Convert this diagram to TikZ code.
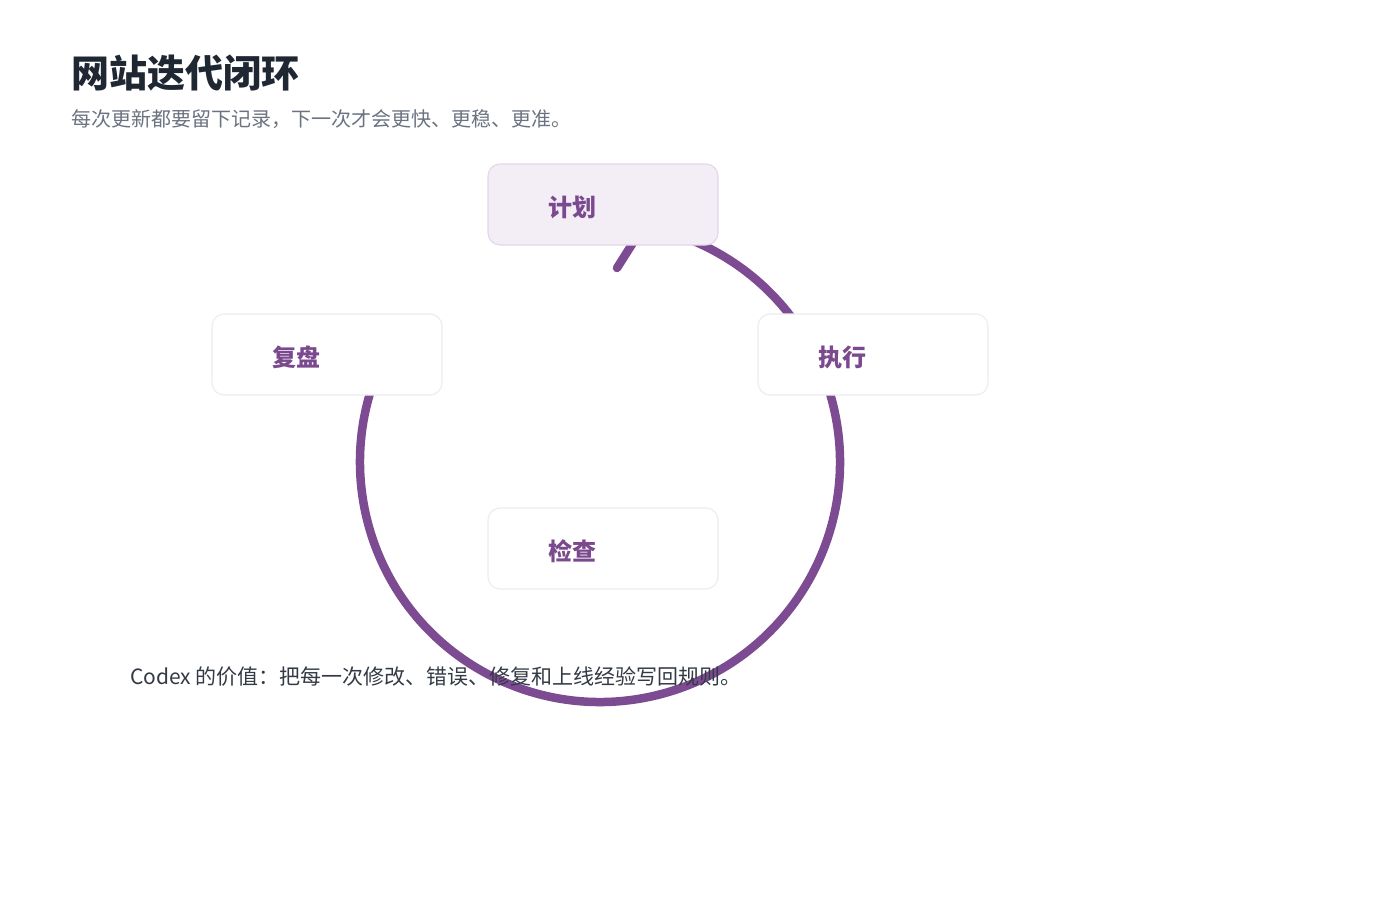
\documentclass[tikz,border=0pt]{standalone}
\usepackage{fontspec}
\setmainfont{Noto Sans CJK SC}
\usetikzlibrary{positioning}
\definecolor{loopPurple}{HTML}{7D4B91}
\definecolor{labelPurple}{HTML}{7B4A8E}
\definecolor{planFill}{HTML}{F3EDF6}
\definecolor{planLine}{HTML}{E3D5EB}
\definecolor{boxLine}{HTML}{ECEBEE}
\definecolor{titleInk}{HTML}{1F2733}
\definecolor{subInk}{HTML}{6B7280}
\definecolor{noteInk}{HTML}{333A45}
\tikzset{
  stepbox/.style={draw=boxLine, fill=white, line width=1.1pt, rounded corners=12pt,
    minimum width=230pt, minimum height=81pt, text width=110pt, inner xsep=0pt,
    text height=24pt, text depth=0pt,
    align=left, text=labelPurple, font=\fontsize{24}{26}\selectfont\bfseries},
  planbox/.style={stepbox, draw=planLine, fill=planFill},
  looparc/.style={loopPurple, line width=8.5pt, line cap=round}
}
\begin{document}
\begin{tikzpicture}[x=1pt,y=-1pt]
\useasboundingbox (0,0) rectangle (1400,900);
\def\xC{600};
\def\yC{462};
\def\rLoop{240};
\coordinate (C) at (\xC,\yC);
% the loop itself, hidden behind the boxes
\draw[looparc] (C) ++(210:\rLoop) arc[start angle=210, end angle=-95, radius=\rLoop];
\coordinate (tipA) at (617,268);
\coordinate (tipB) at (636,238);
\draw[looparc] (tipA)--(tipB);
% the four steps
\node[planbox] (plan) at (603,204.5) {计划};
\node[stepbox] (exec) at (873,354.5) {执行};
\node[stepbox] (check) at (603,548.5) {检查};
\node[stepbox] (review) at (327,354.5) {复盘};
% texts
\node[anchor=west, inner sep=0pt, text=titleInk, font=\fontsize{38}{40}\selectfont\bfseries] (title) at (71,73) {网站迭代闭环};
\node[anchor=west, inner sep=0pt, text=subInk, font=\fontsize{20}{24}\selectfont] (sub) at (71,119) {每次更新都要留下记录，下一次才会更快、更稳、更准。};
\node[anchor=west, inner sep=0pt, text=noteInk, font=\fontsize{21}{24}\selectfont] (note) at (130,677) {Codex 的价值：把每一次修改、错误、修复和上线经验写回规则。};
\end{tikzpicture}
\end{document}
